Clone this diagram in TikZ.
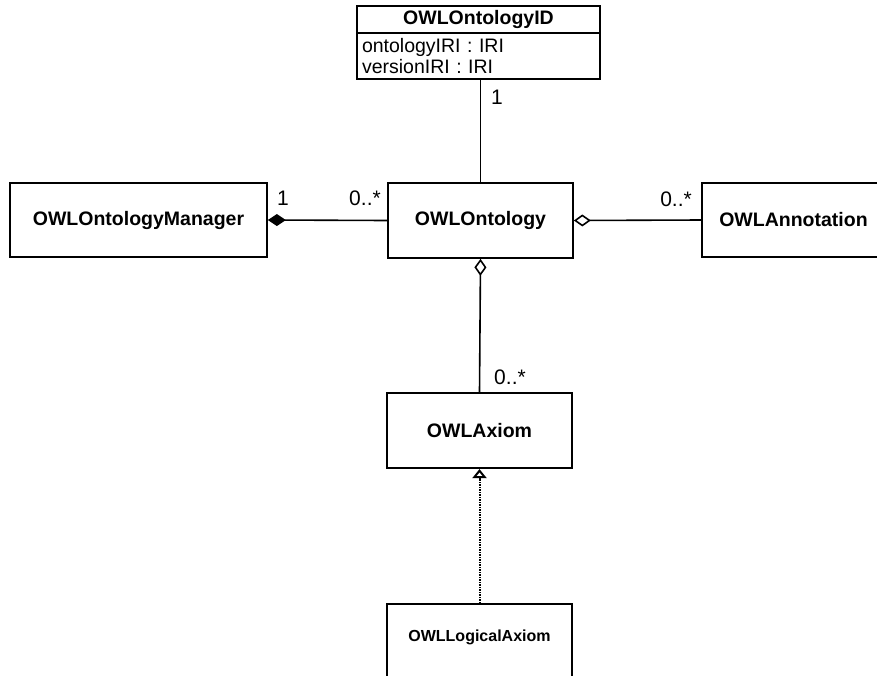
\documentclass[tikz,border=0pt]{standalone}
\usepackage{fontspec}
\setmainfont{Liberation Sans}
\usetikzlibrary{arrows.meta}
\begin{document}
\begin{tikzpicture}[x=1pt,y=-1pt,
  umlbox/.style={draw, line width=1.7pt, rectangle, inner sep=0pt,
    font=\fontsize{19.5}{22}\selectfont\bfseries},
  attrbox/.style={draw, line width=1.7pt, rectangle, inner sep=5pt,
    align=left, font=\fontsize{19.5}{20.5}\selectfont},
  mult/.style={font=\fontsize{21}{24}\selectfont, inner sep=0pt},
  assoc/.style={line width=1.6pt},
  compo/.style={assoc, {Diamond[length=18pt,width=12pt]}-},
  aggr/.style={assoc, {Diamond[open,length=17pt,width=12pt]}-},
  realize/.style={line width=2pt, dash pattern=on 1.5pt off 1pt,
    -{Triangle[open,length=9pt,width=14pt]}}
]
\useasboundingbox (0,0) rectangle (877,675);
\clip (0,0) rectangle (877,675);

% class OWLOntologyID: name compartment and attribute compartment sharing one border
\node[umlbox, outer sep=0pt, minimum width=243pt, minimum height=27pt] (idhead) at (478.5,19.5) {OWLOntologyID};
\node[attrbox, outer sep=0pt, anchor=north, text width=233pt, minimum height=46pt] (idbody) at (idhead.south)
  {ontologyIRI : IRI\\versionIRI : IRI};

% the other classes
\node[umlbox, minimum width=257pt, minimum height=74pt] (mgr) at (138.5,220) {OWLOntologyManager};
\node[umlbox, minimum width=185pt, minimum height=75pt] (ont) at (480.5,220.5) {OWLOntology};
\node[umlbox, minimum width=183pt, minimum height=74pt] (ann) at (793.5,220) {OWLAnnotation};
\node[umlbox, minimum width=185pt, minimum height=75.5pt] (axiom) at (479.5,430.5) {OWLAxiom};
\node[draw, line width=1.7pt, rectangle, minimum width=185pt, minimum height=100pt,
  anchor=north] (logical) at (479.5,603) {};
\node[font=\fontsize{16}{18}\selectfont\bfseries, inner sep=0pt] (logicaltext) at (479.5,637) {OWLLogicalAxiom};

% associations
\draw[assoc] (ont.north) -- (ont.north |- idbody.south);
\draw[compo] (mgr.east) -- (ont.west);
\draw[aggr] (ont.east) -- (ann.west);
\draw[aggr] (ont.south) -- (axiom.north);
\draw[realize] (logical.north) -- (axiom.south);

% multiplicities
\node[mult] (m-id) at (497,97) {1};
\node[mult] (m-mgr) at (283,198) {1};
\node[mult] (m-ont) at (365,198) {0..*};
\node[mult] (m-ann) at (676,199) {0..*};
\node[mult] (m-ax) at (510,377) {0..*};
\end{tikzpicture}
\end{document}
